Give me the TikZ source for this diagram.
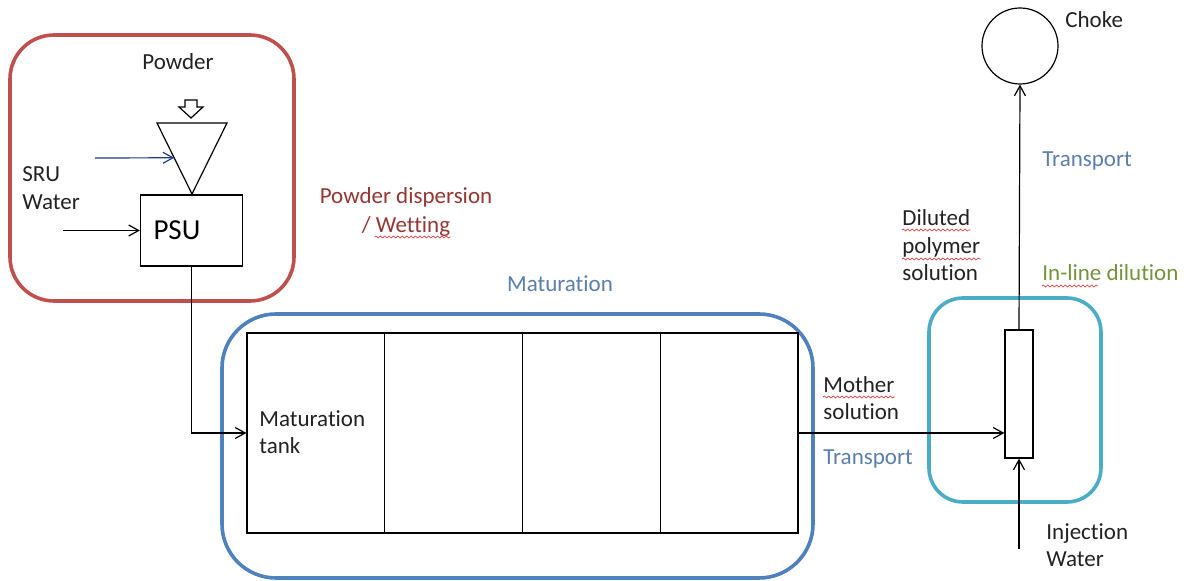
\documentclass[tikz,border=0pt]{standalone}
\usepackage{fontspec}
\setmainfont{Carlito}[Ligatures=NoCommon]
\usetikzlibrary{arrows.meta,calc,decorations.pathmorphing}
\definecolor{redb}{HTML}{C0504D}
\definecolor{redt}{HTML}{943634}
\definecolor{blueb}{HTML}{4F81BD}
\definecolor{bluet}{HTML}{5B7FAB}
\definecolor{tealb}{HTML}{4BACC6}
\definecolor{greent}{HTML}{76923C}
\definecolor{navyc}{HTML}{1F3C88}
\definecolor{txtc}{HTML}{222222}
\definecolor{squig}{HTML}{E04040}
\begin{document}
\begin{tikzpicture}[x=0.5pt,y=-0.5pt,
  txt/.style={inner sep=0pt, anchor=base west, font=\fontsize{11.5}{13.5}\selectfont, text=txtc},
  ctxt/.style={txt, anchor=base},
  group/.style={line width=1.8pt, rounded corners=#1},
  unit/.style={draw=black, line width=0.6pt, inner sep=0pt, fill=white},
  flow/.style={line width=0.6pt, -{Straight Barb[length=5pt,width=5.5pt]}},
  pipe/.style={line width=0.6pt},
  wavy/.style={draw=squig, line width=0.35pt, decorate, decoration={snake, amplitude=0.5pt, segment length=2.2pt}}
]
\useasboundingbox (0,0) rectangle (1184,581);

% group frames
\draw[group=22pt, draw=redb] (10,35) rectangle (294,301);
\draw[group=27pt, draw=blueb] (222,314) rectangle (813,578);
\draw[group=17pt, draw=tealb] (929,298) rectangle (1101,502);

% powder dispersion unit
\node[ctxt] (powder) at (178,70) {Powder};
\draw[line width=0.6pt, fill=white] (185,100) -- (197,100) -- (197,107) -- (203,107) -- (191,118) -- (179,107) -- (185,107) -- cycle;
\coordinate (tl) at (157,123);
\coordinate (tr) at (227,123);
\coordinate (tb) at (192,194);
\draw[line width=0.6pt] (tl) -- (tr) -- (tb) -- cycle;
\coordinate (triIn) at ($(tl)!0.49!(tb)$);
\coordinate (sruA) at (95,158);
\draw[flow, draw=navyc] (sruA) -- (triIn);

\node[txt] (sru) at (22,182) {SRU};
\node[txt] (water) at (22,210) {Water};

\node[unit, minimum width=51pt, minimum height=35.5pt, text width=38pt, align=left,
      font=\fontsize{14.5}{16}\selectfont, anchor=center] (psu) at (191.5,230.5) {PSU};
\coordinate (sruB) at (63,230.5);
\draw[flow] (sruB) -- (psu.west);

\node[ctxt, text=redt] (pd1) at (406,204) {Powder dispersion};
\node[ctxt, text=redt] (pd2) at (406,233) {/ Wetting};
\draw[wavy] ($(pd2.base east)+(-76,4)$) -- ($(pd2.base east)+(0,4)$);

% maturation
\node[ctxt, text=bluet] (matlab) at (560,292) {Maturation};
\node[unit, minimum width=275.5pt, minimum height=100pt] (tank) at (522.5,433) {};
\foreach \f in {0.25,0.5,0.75}
  \draw[pipe] ($(tank.north west)!\f!(tank.north east)$) -- ($(tank.south west)!\f!(tank.south east)$);
\node[txt] (mt1) at (259,427) {Maturation};
\node[txt] (mt2) at (259,454) {tank};

\draw[flow] (psu.south) |- (tank.west);

% in-line dilution
\node[unit, minimum width=14pt, minimum height=64pt] (mixer) at (1019,394) {};
\draw[flow] (tank.east) -- (tank.east -| mixer.west);
\node[txt] (mo1) at (823,393) {Mother};
\node[txt] (mo2) at (823,420) {solution};
\draw[wavy] ($(mo1.base west)+(0,4)$) -- ($(mo1.base east)+(0,4)$);
\node[txt, text=bluet] (tr1) at (823,465) {Transport};

\coordinate (inj) at (1019,549);
\draw[flow] (inj) -- (mixer.south);
\node[txt] (inj1) at (1046,540) {Injection};
\node[txt] (inj2) at (1046,567) {Water};

\node[draw=black, line width=0.6pt, circle, minimum size=38pt, inner sep=0pt] (choke) at (1020,46) {};
\draw[flow] (mixer.north) -- (choke.south);
\node[txt] (chk) at (1065,28) {Choke};
\node[txt, text=bluet] (tr2) at (1042,167) {Transport};

\node[txt] (dl1) at (902,226) {Diluted};
\node[txt] (dl2) at (902,254) {polymer};
\node[txt] (dl3) at (902,281) {solution};
\draw[wavy] ($(dl1.base west)+(0,4)$) -- ($(dl1.base east)+(0,4)$);
\draw[wavy] ($(dl2.base west)+(0,5)$) -- ($(dl2.base east)+(0,5)$);

\node[txt, text=greent] (ild) at (1042,281) {In-line dilution};
\draw[wavy] ($(ild.base west)+(0,5)$) -- ($(ild.base west)+(56,5)$);
\end{tikzpicture}
\end{document}
